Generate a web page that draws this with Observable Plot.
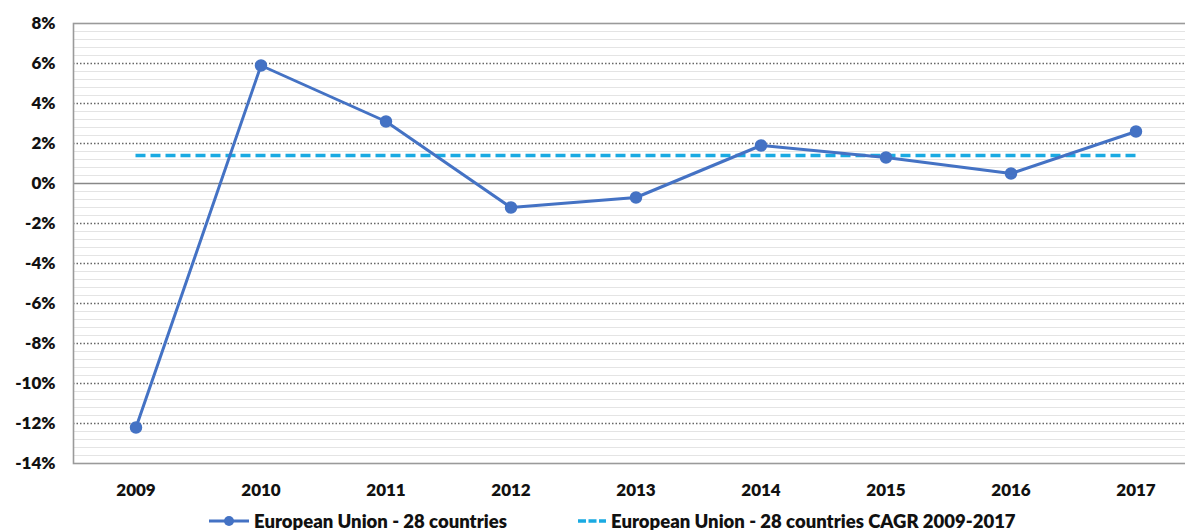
<!DOCTYPE html>
<html>
<head>
<meta charset="utf-8">
<script src="https://cdn.jsdelivr.net/npm/d3@7"></script>
<script src="https://cdn.jsdelivr.net/npm/@observablehq/plot@0.6"></script>
<style>
  html, body { margin: 0; padding: 0; background: #fff; }
  body { width: 1185px; height: 530px; overflow: hidden; font-family: Lato, "Open Sans", sans-serif; }
  #legend { position: relative; height: 25px; font: 800 18.5px Lato, sans-serif; color: #111; }
  .item { position: absolute; top: 5px; display: flex; align-items: center; white-space: nowrap; }
  .item svg { margin-right: 5px; }
</style>
</head>
<body>
<div id="chart"></div>
<div id="legend"></div>
<script>
// Annual growth, EU-28, 2009–2017 (%)
const years = [2009, 2010, 2011, 2012, 2013, 2014, 2015, 2016, 2017];
const growth = [-12.2, 5.9, 3.1, -1.2, -0.7, 1.9, 1.3, 0.5, 2.6];
// Compound annual growth rate over the period (%)
const cagr = 1.4;
const yTicks = [-14, -12, -10, -8, -6, -4, -2, 0, 2, 4, 6, 8];

const seriesName = "European Union - 28 countries";
const cagrName = "European Union - 28 countries CAGR 2009-2017";

const lineColor = "#4472C4";
const cagrColor = "#1AAAE2";

const rows = years.map((year, i) => ({year, value: growth[i]}));

// light minor gridlines between the labelled ticks
const minorTicks = d3.range(0, 56)
  .map(i => +(yTicks[0] + i * 0.4).toFixed(1))
  .filter(v => Math.abs(v % 2) > 1e-6);

const chart = Plot.plot({
  width: 1185,
  height: 505,
  marginLeft: 73,
  marginRight: -13,
  marginTop: 23,
  marginBottom: 42,
  style: {fontFamily: "Lato, 'Open Sans', sans-serif", fontSize: "17px", fontWeight: "800", color: "#111", background: "#fff"},
  x: {domain: [years[0] - 0.5, years[years.length - 1] + 0.5]},
  y: {domain: [yTicks[0], yTicks[yTicks.length - 1]]},
  marks: [
    Plot.ruleY(minorTicks, {stroke: "#e4e4e4", strokeWidth: 1}),
    Plot.ruleY(yTicks.filter(v => v !== 0 && v !== yTicks[0] && v !== yTicks[yTicks.length - 1]),
      {stroke: "#666", strokeWidth: 1.3, strokeDasharray: "1.5,2"}),
    Plot.ruleY([0], {stroke: "#888", strokeWidth: 1.3}),
    Plot.frame({stroke: "#9a9a9a", strokeWidth: 1.6}),
    Plot.axisY(yTicks, {tickSize: 0, tickPadding: 18, tickFormat: d => d + "%", label: null, fontSize: 17}),
    Plot.axisX(years, {tickSize: 0, tickPadding: 20, tickFormat: d => String(d), label: null, fontSize: 17}),
    Plot.ruleY([cagr], {x1: years[0], x2: years[years.length - 1], stroke: cagrColor, strokeWidth: 3.5, strokeDasharray: "10,5"}),
    Plot.line(rows, {x: "year", y: "value", stroke: lineColor, strokeWidth: 3}),
    Plot.dot(rows, {x: "year", y: "value", r: 5.5, fill: lineColor, stroke: lineColor})
  ]
});
document.getElementById("chart").appendChild(chart);

// legend below the chart
const legend = document.getElementById("legend");
function addItem(left, swatch, text) {
  const div = document.createElement("div");
  div.className = "item";
  div.style.left = left + "px";
  div.innerHTML = swatch + "<span>" + text + "</span>";
  legend.appendChild(div);
}
addItem(209,
  `<svg width="40" height="14"><line x1="0" y1="7" x2="40" y2="7" stroke="${lineColor}" stroke-width="3"/><circle cx="20" cy="7" r="5" fill="${lineColor}"/></svg>`,
  seriesName);
addItem(578,
  `<svg width="28" height="14"><line x1="0" y1="7" x2="28" y2="7" stroke="${cagrColor}" stroke-width="3.5" stroke-dasharray="8,2.5"/></svg>`,
  cagrName);
</script>
</body>
</html>
